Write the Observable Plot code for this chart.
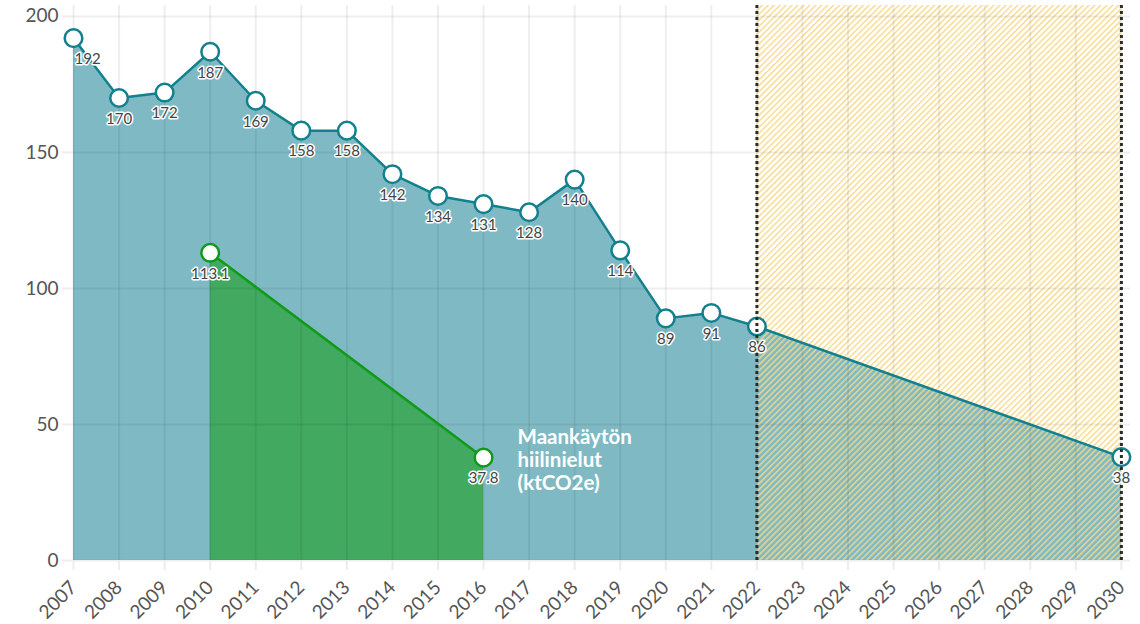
<!DOCTYPE html>
<html>
<head>
<meta charset="utf-8">
<script src="https://cdn.jsdelivr.net/npm/d3@7"></script>
<script src="https://cdn.jsdelivr.net/npm/@observablehq/plot@0.6"></script>
<style>
  html, body { margin: 0; padding: 0; background: #fff; }
  #chart svg { display: block; }
</style>
</head>
<body>
<div id="chart"></div>
<script>
// Emissions series (ktCO2e), observed + target
const years = [2007, 2008, 2009, 2010, 2011, 2012, 2013, 2014, 2015, 2016, 2017, 2018, 2019, 2020, 2021, 2022, 2030];
const emissions = [192, 170, 172, 187, 169, 158, 158, 142, 134, 131, 128, 140, 114, 89, 91, 86, 38];
const emissionLabels = ["192", "170", "172", "187", "169", "158", "158", "142", "134", "131", "128", "140", "114", "89", "91", "86", "38"];

// Land-use carbon sinks
const sinkYears = [2010, 2016];
const sinkValues = [113.1, 37.8];
const sinkLabels = ["113.1", "37.8"];
const sinkTitle = "Maankäytön\nhiilinielut\n(ktCO2e)";

// Target period
const targetStart = 2022;
const targetEnd = 2030;
const yTop = 204;

const xTicks = d3.range(2007, 2031);
const yTicks = [0, 50, 100, 150, 200];

const main = years.map((x, i) => ({x, y: emissions[i], label: emissionLabels[i]}));
const sink = sinkYears.map((x, i) => ({x, y: sinkValues[i], label: sinkLabels[i]}));
const target = [{x1: targetStart, x2: targetEnd, y1: 0, y2: yTop}];
const dotted = [targetStart, targetEnd];

const teal = "#13808e";
const tealFill = "#7fbac4";
const green = "#119a1a";
const greenFill = "#41aa60";
const font = "Lato, 'Noto Sans', sans-serif";

const chart = Plot.plot({
  width: 1140,
  height: 624,
  marginTop: 5,
  marginLeft: 73,
  marginRight: 10,
  marginBottom: 64,
  style: {fontFamily: font, background: "#fff"},
  x: {domain: [2007, 2030.2], label: null},
  y: {domain: [0, yTop], label: null},
  marks: [
    // areas
    Plot.areaY(main, {x: "x", y: "y", fill: tealFill}),
    Plot.areaY(sink, {x: "x", y: "y", fill: greenFill}),
    // target hatch
    Plot.rect(target, {x1: "x1", x2: "x2", y1: "y1", y2: "y2", fill: "url(#hatch)"}),
    // grid
    Plot.ruleX(xTicks, {x: d => d, y1: 0, y2: yTop, stroke: "#000", strokeOpacity: 0.065, strokeWidth: 2}),
    Plot.ruleY(yTicks, {y: d => d, stroke: "#000", strokeOpacity: 0.065, strokeWidth: 2}),
    // axes
    Plot.axisY(yTicks, {tickSize: 11, stroke: "#ededed", strokeWidth: 2, tickPadding: 4, fontSize: 19, fill: "#555", label: null}),
    Plot.axisX(xTicks, {tickSize: 10, stroke: "#ededed", strokeWidth: 2, tickRotate: -45, tickPadding: 14, fontSize: 19, fill: "#555", tickFormat: d => String(d), label: null}),
    // lines
    Plot.lineY(main, {x: "x", y: "y", stroke: teal, strokeWidth: 2.5}),
    Plot.lineY(sink, {x: "x", y: "y", stroke: green, strokeWidth: 2.5}),
    // dots
    Plot.dot(main, {x: "x", y: "y", r: 8.8, fill: "#fff", stroke: teal, strokeWidth: 2.5}),
    Plot.dot(sink, {x: "x", y: "y", r: 8.8, fill: "#fff", stroke: green, strokeWidth: 2.5}),
    // dotted boundaries
    Plot.ruleX(dotted, {x: d => d, y1: 0, y2: yTop, stroke: "#2b2b2b", strokeWidth: 3, strokeDasharray: "3,3"}),
    // value labels
    Plot.text(main.slice(0, 1), {x: "x", y: "y", text: "label", dy: 21, dx: 1, textAnchor: "start", fontSize: 15, fill: "#444", stroke: "#fff", strokeWidth: 3}),
    Plot.text(main.slice(1), {x: "x", y: "y", text: "label", dy: 21, fontSize: 15, fill: "#444", stroke: "#fff", strokeWidth: 3}),
    Plot.text(sink, {x: "x", y: "y", text: "label", dy: 21, fontSize: 15, fill: "#444", stroke: "#fff", strokeWidth: 3}),
    // series label
    Plot.text(sink.slice(-1), {x: "x", y: "y", text: () => sinkTitle, dx: 34, dy: 2, textAnchor: "start", lineAnchor: "middle", lineHeight: 1.13, fontSize: 20.5, fontWeight: "bold", fill: "#fff"})
  ]
});

// hatch pattern definition
const svg = d3.select(chart);
const defs = svg.insert("defs", ":first-child");
const pat = defs.append("pattern")
  .attr("id", "hatch")
  .attr("patternUnits", "userSpaceOnUse")
  .attr("width", 4.2)
  .attr("height", 4.2)
  .attr("patternTransform", "rotate(45)");
pat.append("line").attr("x1", 0).attr("y1", 0).attr("x2", 0).attr("y2", 4.2)
  .attr("stroke", "#f5d88a").attr("stroke-width", 3.6).attr("stroke-opacity", 0.8);

document.getElementById("chart").appendChild(chart);
</script>
</body>
</html>
